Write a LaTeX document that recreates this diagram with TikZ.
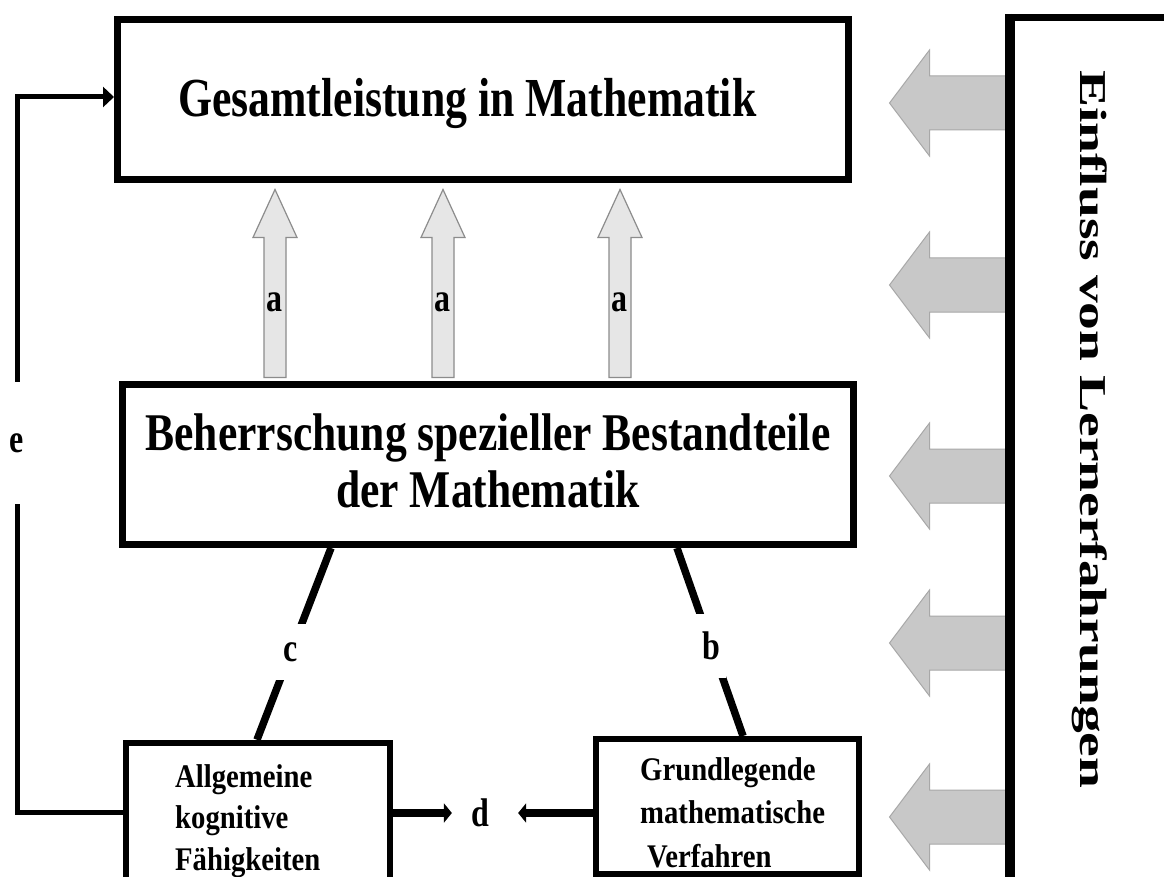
\documentclass[tikz,border=0pt]{standalone}
\usepackage{fontspec}
\usetikzlibrary{arrows.meta,calc}
\newfontfamily\titlefont[FakeStretch=0.795]{Liberation Serif}
\newfontfamily\midfont[FakeStretch=0.822]{Liberation Serif}
\newfontfamily\smallfont[FakeStretch=0.87]{Liberation Serif}
\newfontfamily\labfont[FakeStretch=0.8]{Liberation Serif}
\newfontfamily\vertfont[FakeStretch=1.46]{Liberation Serif}
\definecolor{arrgray}{HTML}{C8C8C8}
\definecolor{arrgrayline}{HTML}{A8A8A8}
\definecolor{upfillc}{HTML}{E6E6E6}
\definecolor{uplinec}{HTML}{8C8C8C}
\newcommand\drawUpArrow[2]{%
  \draw[uparrowst] ($(#2)+(-11,0)$) -- ($(#1)+(-11,48)$) -- ($(#1)+(-22,48)$) -- (#1)
    -- ($(#1)+(22,48)$) -- ($(#1)+(11,48)$) -- ($(#2)+(11,0)$) -- cycle;}
\newcommand\drawSideArrow[1]{%
  \draw[sidearrowst] ($(#1)+(0,-27)$) -- ($(#1)+(-78.5,-27)$) -- ($(#1)+(-78.5,-53)$)
    -- ($(#1)+(-118.5,0)$) -- ($(#1)+(-78.5,53)$) -- ($(#1)+(-78.5,27)$) -- ($(#1)+(0,27)$) -- cycle;}
\begin{document}
\begin{tikzpicture}[x=1pt,y=-1pt,
  boxst/.style={draw, line width=7pt, inner sep=0pt, rectangle},
  smallbox/.style={draw, line width=6.5pt, inner sep=0pt, rectangle},
  uparrowst/.style={fill=upfillc, draw=uplinec, line width=1.2pt, line join=miter},
  sidearrowst/.style={fill=arrgray, draw=arrgrayline, line width=1pt, line join=miter},
  lab/.style={inner sep=0pt, font=\labfont\bfseries\fontsize{40}{44}\selectfont},
  gaplab/.style={lab, fill=white},
  thickline/.style={line width=7.5pt},
  eline/.style={line width=5pt, line join=miter},
  darr/.style={line width=8pt, -{Triangle[length=8pt,width=19pt]}},
]
\fill[white] (0,0) rectangle (1164,877);
\useasboundingbox (0,0) rectangle (1164,877);

% boxes
\node[boxst, minimum width=731pt, minimum height=160pt] (top) at (483,99.5) {};
\node[boxst, minimum width=731pt, minimum height=160pt] (mid) at (488,464.5) {};
\node[smallbox, minimum width=264pt, minimum height=177pt] (lbox) at (258,831.5) {};
\node[draw, line width=6pt, inner sep=0pt, minimum width=263pt, minimum height=135pt] (rbox) at (727.5,806.5) {};

% texts
\node[anchor=base west, inner sep=0pt, font=\titlefont\bfseries\fontsize{55}{60}\selectfont] (toptext) at (178,117) {Gesamtleistung in Mathematik};
\node[align=center, anchor=base, inner sep=0pt, font=\midfont\bfseries\fontsize{53}{57}\selectfont] (midtext) at (488,507) {Beherrschung spezieller Bestandteile\\der Mathematik};
\node[align=left, anchor=base west, inner sep=0pt, font=\smallfont\bfseries\fontsize{33}{41.5}\selectfont] (ltext) at (175,870) {Allgemeine\\kognitive\\Fähigkeiten};
\node[align=left, anchor=base west, inner sep=0pt, font=\smallfont\bfseries\fontsize{33}{43.5}\selectfont] (rtext) at (640,867) {Grundlegende\\mathematische\\\hspace*{7pt}Verfahren};

% up arrows a
\coordinate (u1t) at ($(top.south -| 275,0)+(0,6.5)$);
\coordinate (u1b) at ($(mid.north -| 275,0)+(0,-3.5)$);
\coordinate (u2t) at ($(top.south -| 443,0)+(0,6.5)$);
\coordinate (u2b) at ($(mid.north -| 443,0)+(0,-3.5)$);
\coordinate (u3t) at ($(top.south -| 620,0)+(0,6.5)$);
\coordinate (u3b) at ($(mid.north -| 620,0)+(0,-3.5)$);
\drawUpArrow{u1t}{u1b}
\drawUpArrow{u2t}{u2b}
\drawUpArrow{u3t}{u3b}
\node[lab] (a1) at (274,302) {a};
\node[lab] (a2) at (442,302) {a};
\node[lab] (a3) at (619,302) {a};

% right influence box and side arrows
\node[boxst, minimum width=238.5pt, minimum height=932.5pt] (big) at (1130.75,483.75) {};
\coordinate (g1) at (big.west |- 0,103);
\coordinate (g2) at (big.west |- 0,285);
\coordinate (g3) at (big.west |- 0,476);
\coordinate (g4) at (big.west |- 0,643);
\coordinate (g5) at (big.west |- 0,817);
\drawSideArrow{g1}
\drawSideArrow{g2}
\drawSideArrow{g3}
\drawSideArrow{g4}
\drawSideArrow{g5}
\draw[line width=7pt] (big.north west) -- (big.south west);
\node[rotate=-90, anchor=base west, inner sep=0pt, font=\vertfont\bfseries\fontsize{38}{40}\selectfont] (vtext) at (1080,70) {Einfluss von Lernerfahrungen};

% c and b connectors
\draw[thickline] (mid.south -| 331,0) -- node[gaplab, pos=0.542, minimum height=56pt, minimum width=30pt] (clab) {c} (lbox.north -| 257,0);
\draw[thickline] (mid.south -| 677,0) -- node[gaplab, pos=0.519, minimum height=64pt, minimum width=30pt] (blab) {b} (rbox.north -| 743,0);

% d arrows
\node[lab] (dlab) at (480,813) {d};
\draw[darr, shorten >=19pt] (lbox.east |- dlab) -- (dlab.west);
\draw[darr, shorten >=29pt] (rbox.west |- dlab) -- (dlab.east);

% e feedback line
\draw[eline, -{Triangle[length=11pt,width=20pt]}] (lbox.west |- 0,812) -- (17,812)
  -- node[gaplab, pos=0.516, minimum height=122pt, minimum width=22pt] (elab) {e} (17,97)
  -- (top.west |- 0,97);
\end{tikzpicture}
\end{document}
